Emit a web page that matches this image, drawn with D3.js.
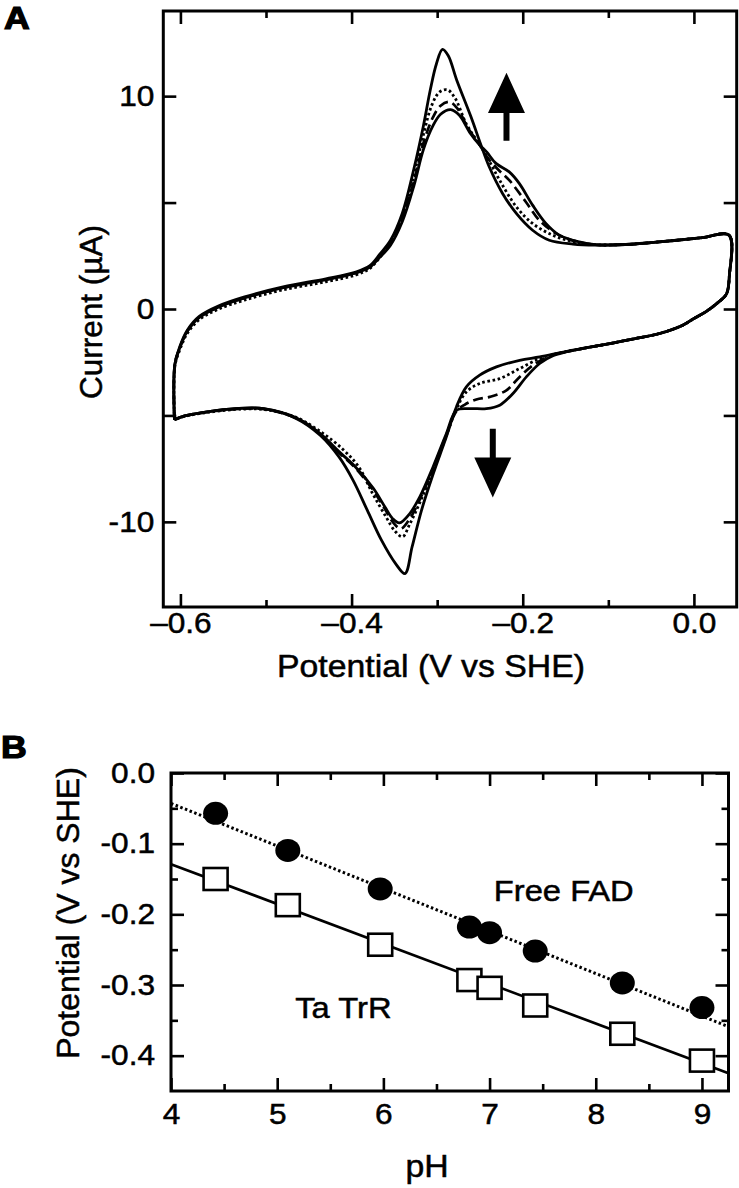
<!DOCTYPE html>
<html><head><meta charset="utf-8">
<script src="https://cdn.jsdelivr.net/npm/d3@7"></script>
<style>
html,body{margin:0;padding:0;background:#fff;}
svg{display:block;font-family:"Liberation Sans",Arial,Helvetica,sans-serif;}
</style>
</head><body>
<svg id="chart" width="739" height="1188"></svg>
<script>
// ---------------- Panel A data : cyclic voltammograms [potential V vs SHE, current µA] ----------------
const cvFinal = [ // solid, largest peaks, no shoulder
 [-0.607,-5.2],[-0.6065,-2.6],[-0.601,-1.8],[-0.592,-1.0],[-0.578,-0.35],[-0.555,0.15],[-0.525,0.57],[-0.48,1.04],
 [-0.43,1.42],[-0.395,1.74],[-0.379,2.02],[-0.3665,2.6],[-0.3545,3.23],[-0.3408,4.49],[-0.3271,6.6],[-0.3161,8.6],
 [-0.308,10.3],[-0.301,11.5],[-0.2938,12.2],[-0.287,11.9],[-0.2771,10.75],[-0.2605,9.03],[-0.2495,7.78],[-0.2392,6.68],
 [-0.2236,5.43],[-0.2075,4.49],[-0.1885,3.7],[-0.169,3.23],[-0.1413,3.05],[-0.115,3.0],[-0.08,3.03],[-0.05,3.12],
 [-0.02,3.23],[0.01,3.35],[0.041,3.47],
 [0.0415,1.6],[0.038,0.7],[0.028,0.3],[0.015,-0.1],[0.0,-0.45],[-0.013,-0.76],[-0.04,-1.15],[-0.07,-1.4],[-0.095,-1.6],
 [-0.125,-1.82],[-0.15,-2.0],[-0.1802,-2.25],[-0.2036,-2.41],[-0.2308,-2.72],[-0.2503,-3.11],[-0.2659,-3.66],[-0.2775,-4.6],
 [-0.2907,-6.17],[-0.3045,-7.73],[-0.3183,-9.46],[-0.3293,-11.18],[-0.3376,-12.43],[-0.3486,-11.96],[-0.3651,-10.86],
 [-0.3817,-9.45],[-0.3982,-8.05],[-0.4147,-6.95],[-0.4367,-5.93],[-0.4643,-5.15],[-0.5028,-4.68],[-0.5358,-4.68],
 [-0.5688,-4.83],[-0.595,-5.02],[-0.607,-5.2]
];
const cvInitial = [ // solid, smallest peaks, largest shoulders
 [-0.607,-5.2],[-0.6065,-2.6],[-0.601,-1.85],[-0.592,-1.05],[-0.578,-0.4],[-0.555,0.1],[-0.525,0.52],[-0.48,1.0],
 [-0.43,1.38],[-0.395,1.7],[-0.379,1.96],[-0.3665,2.45],[-0.3545,3.0],[-0.3408,4.1],[-0.3271,5.8],[-0.316,7.5],
 [-0.305,8.6],[-0.296,9.15],[-0.2842,9.37],[-0.274,9.1],[-0.262,8.3],[-0.2502,7.7],[-0.2422,7.38],[-0.2313,6.84],
 [-0.2158,6.44],[-0.2041,5.9],[-0.1885,4.88],[-0.173,4.02],[-0.1574,3.47],[-0.134,3.15],[-0.115,3.02],[-0.08,3.03],
 [-0.05,3.12],[-0.02,3.23],[0.01,3.35],[0.041,3.47],
 [0.0415,1.6],[0.038,0.7],[0.028,0.3],[0.015,-0.1],[0.0,-0.45],[-0.013,-0.76],[-0.04,-1.15],[-0.07,-1.4],[-0.095,-1.6],
 [-0.125,-1.82],[-0.15,-2.02],[-0.1647,-2.2],[-0.1802,-2.56],[-0.1958,-3.19],[-0.2114,-3.97],[-0.2269,-4.52],
 [-0.2425,-4.68],[-0.262,-4.68],[-0.2775,-4.76],[-0.2892,-5.85],[-0.3048,-7.42],[-0.3203,-8.83],[-0.332,-9.61],
 [-0.3441,-10.05],[-0.352,-9.85],[-0.361,-9.3],[-0.375,-8.4],[-0.396,-7.4],[-0.4147,-6.7],[-0.4367,-5.85],
 [-0.4643,-5.12],[-0.5028,-4.68],[-0.5358,-4.68],[-0.5688,-4.83],[-0.595,-5.02],[-0.607,-5.2]
];
const cvDashed = [
 [-0.607,-5.2],[-0.6065,-2.6],[-0.601,-1.85],[-0.592,-1.05],[-0.578,-0.4],[-0.555,0.1],[-0.525,0.52],[-0.48,1.0],
 [-0.43,1.38],[-0.395,1.7],[-0.379,1.98],[-0.3665,2.5],[-0.3545,3.1],[-0.3408,4.25],[-0.3271,6.0],[-0.316,7.8],
 [-0.305,9.0],[-0.296,9.55],[-0.2855,9.73],[-0.276,9.4],[-0.264,8.5],[-0.2502,7.7],[-0.241,7.1],[-0.23,6.6],
 [-0.2158,6.05],[-0.1963,5.03],[-0.1807,4.17],[-0.1612,3.55],[-0.14,3.2],[-0.115,3.02],[-0.08,3.03],
 [-0.05,3.12],[-0.02,3.23],[0.01,3.35],[0.041,3.47],
 [0.0415,1.6],[0.038,0.7],[0.028,0.3],[0.015,-0.1],[0.0,-0.45],[-0.013,-0.76],[-0.04,-1.15],[-0.07,-1.4],[-0.095,-1.6],
 [-0.125,-1.82],[-0.15,-2.02],[-0.165,-2.15],[-0.188,-2.64],[-0.2036,-3.19],[-0.2191,-3.82],[-0.2386,-4.13],
 [-0.2542,-4.25],[-0.268,-4.5],[-0.2775,-4.8],[-0.2892,-5.9],[-0.3048,-7.5],[-0.3203,-8.95],[-0.332,-9.85],
 [-0.3425,-10.32],[-0.352,-10.0],[-0.361,-9.4],[-0.375,-8.5],[-0.396,-7.45],[-0.4147,-6.75],[-0.4367,-5.87],
 [-0.4643,-5.13],[-0.5028,-4.7],[-0.5358,-4.7],[-0.5688,-4.84],[-0.595,-5.02],[-0.607,-5.2]
];
const cvDotted = [
 [-0.607,-5.2],[-0.6065,-2.7],[-0.601,-1.95],[-0.592,-1.15],[-0.578,-0.5],[-0.555,0.0],[-0.525,0.42],[-0.48,0.9],
 [-0.43,1.28],[-0.395,1.6],[-0.379,1.9],[-0.3665,2.45],[-0.3545,3.1],[-0.3408,4.35],[-0.3271,6.3],[-0.316,8.2],
 [-0.306,9.6],[-0.297,10.2],[-0.288,10.3],[-0.279,9.9],[-0.266,8.7],[-0.2502,7.7],[-0.2396,6.99],[-0.227,6.05],
 [-0.2075,4.8],[-0.1885,4.02],[-0.1651,3.47],[-0.14,3.15],[-0.115,3.02],[-0.08,3.03],
 [-0.05,3.12],[-0.02,3.23],[0.01,3.35],[0.041,3.47],
 [0.0415,1.6],[0.038,0.7],[0.028,0.3],[0.015,-0.1],[0.0,-0.45],[-0.013,-0.76],[-0.04,-1.15],[-0.07,-1.4],[-0.095,-1.6],
 [-0.125,-1.82],[-0.15,-2.0],[-0.165,-2.15],[-0.1802,-2.33],[-0.2036,-2.8],[-0.2269,-3.27],[-0.2503,-3.5],
 [-0.266,-3.9],[-0.2775,-4.7],[-0.2892,-5.95],[-0.3048,-7.6],[-0.3203,-9.1],[-0.332,-10.1],[-0.3403,-10.7],
 [-0.349,-10.45],[-0.36,-9.75],[-0.375,-8.7],[-0.392,-7.4],[-0.41,-6.6],[-0.435,-5.8],[-0.4643,-5.1],
 [-0.5028,-4.72],[-0.5358,-4.72],[-0.5688,-4.86],[-0.595,-5.04],[-0.607,-5.2]
];
// arrows [potential, tail current, head-base current, tip current]
const arrowUp = [-0.219, 7.9, 9.21, 11.1];
const arrowDown = [-0.235, -5.62, -6.98, -8.86];

const xTicksA = [-0.6, -0.4, -0.2, 0.0];
const xTickLabelsA = ["\u20130.6", "\u20130.4", "\u20130.2", "0.0"];
const xMinorA = [-0.5, -0.3, -0.1];
const yTicksA = [-10, 0, 10];
const yTickLabelsA = ["-10", "0", "10"];
const yMinorA = [-5, 5];

// ---------------- Panel B data ----------------
const pH = [4.42, 5.10, 5.97, 6.81, 7.0, 7.43, 8.25, 9.0];
const freeFAD = [-0.057, -0.1095, -0.164, -0.218, -0.226, -0.252, -0.297, -0.332];
const taTrR = [-0.150, -0.187, -0.243, -0.293, -0.304, -0.329, -0.369, -0.407];
const fitPH = [4.0, 9.25];
const fitFAD = [-0.043, -0.359];
const fitTrR = [-0.129, -0.425];

const xTicksB = [4, 5, 6, 7, 8, 9];
const xTickLabelsB = ["4", "5", "6", "7", "8", "9"];
const xMinorB = [4.5, 5.5, 6.5, 7.5, 8.5];
const yTicksB = [0, -0.1, -0.2, -0.3, -0.4];
const yTickLabelsB = ["0.0", "-0.1", "-0.2", "-0.3", "-0.4"];
const yMinorB = [-0.05, -0.15, -0.25, -0.35];

// ---------------- drawing ----------------
const svg = d3.select("#chart");
svg.append("rect").attr("width",739).attr("height",1188).attr("fill","#fff");
const STRETCH = 1.09;

function axes(g, x, y, o) {
  const [x0, x1] = x.range(), [y0, y1] = y.range(); // y0 bottom, y1 top
  const add = (axis, tr) => {
    const a = g.append("g").attr("transform", tr).call(axis);
    a.select(".domain").remove();
    a.selectAll(".tick line").attr("stroke","#000").attr("stroke-width",2.6);
    a.selectAll(".tick text").attr("fill","#000").style("font-size", o.fs + "px")
      .style("font-family", '"Liberation Sans",Arial,Helvetica,sans-serif');
    a.attr("font-size", null).attr("font-family", null);
    return a;
  };
  add(d3.axisBottom(x).tickValues(o.xMajor).tickSize(-o.xMajLen).tickPadding(o.xPad).tickFormat((d,i)=>o.xLabels[i]), `translate(0,${y0})`);
  add(d3.axisBottom(x).tickValues(o.xMinor).tickSize(-o.xMinLen).tickFormat(""), `translate(0,${y0})`);
  add(d3.axisTop(x).tickValues(o.xMajor).tickSize(-o.xMajLen).tickFormat(""), `translate(0,${y1})`);
  add(d3.axisTop(x).tickValues(o.xMinor).tickSize(-o.xMinLen).tickFormat(""), `translate(0,${y1})`);
  add(d3.axisLeft(y).tickValues(o.yMajor).tickSize(-o.yMajLen).tickPadding(o.yPad).tickFormat((d,i)=>o.yLabels[i]), `translate(${x0},0)`);
  add(d3.axisLeft(y).tickValues(o.yMinor).tickSize(-o.yMinLen).tickFormat(""), `translate(${x0},0)`);
  add(d3.axisRight(y).tickValues(o.yMajor).tickSize(-o.yMajLen).tickFormat(""), `translate(${x1},0)`);
  add(d3.axisRight(y).tickValues(o.yMinor).tickSize(-o.yMinLen).tickFormat(""), `translate(${x1},0)`);
  g.append("rect").attr("x",x0).attr("y",y1).attr("width",x1-x0).attr("height",y0-y1)
    .attr("fill","none").attr("stroke","#000").attr("stroke-width",3);
}

// ----- Panel A -----
const xA = d3.scaleLinear().domain([-0.62, 0.05]).range([163.3, 736.7]);
const yA = d3.scaleLinear().domain([-14, 14]).range([607, 11]);
const gA = svg.append("g");
const lineA = d3.line().x(d=>xA(d[0])).y(d=>yA(d[1])).curve(d3.curveCatmullRom.alpha(0.5));
const cvSeries = [
  {data: cvInitial, dash: null, w: 2.8},
  {data: cvDashed, dash: "10,5", w: 2.7},
  {data: cvDotted, dash: "2.6,2.6", w: 2.8},
  {data: cvFinal, dash: null, w: 2.8}
];
gA.selectAll("path.cv").data(cvSeries).join("path").attr("class","cv")
  .attr("d", d=>lineA(d.data)).attr("fill","none").attr("stroke","#000")
  .attr("stroke-width", d=>d.w).attr("stroke-dasharray", d=>d.dash)
  .attr("stroke-linejoin","round");

function arrow(a) {
  const cx = xA(a[0]), tail = yA(a[1]), base = yA(a[2]), tip = yA(a[3]);
  const hw = 18.5, sw = 3;
  gA.append("path").attr("fill","#000")
    .attr("d", `M${cx-sw},${tail}L${cx-sw},${base}L${cx-hw},${base}L${cx},${tip}L${cx+hw},${base}L${cx+sw},${base}L${cx+sw},${tail}Z`);
}
arrow(arrowUp); arrow(arrowDown);

axes(gA, xA, yA, {fs:29, xMajor:xTicksA, xLabels:xTickLabelsA, xMinor:xMinorA, xMajLen:13, xMinLen:7, xPad:5,
  yMajor:yTicksA, yLabels:yTickLabelsA, yMinor:yMinorA, yMajLen:13, yMinLen:13, yPad:9});

gA.append("text").attr("x",431).attr("y",677).attr("text-anchor","middle")
  .style("font-size","31px").text("Potential (V vs SHE)");
gA.append("text").attr("transform","translate(102,312) rotate(-90)").attr("text-anchor","middle")
  .style("font-size","31.5px").text("Current (\u00B5A)");
svg.append("text").attr("class","panel").attr("x",4).attr("y",29).style("font-size","31px").style("font-weight","bold").text("A");

// ----- Panel B -----
const xB = d3.scaleLinear().domain([4, 9.25]).range([171, 728.5]);
const yB = d3.scaleLinear().domain([-0.45, 0]).range([1091, 773]);
const gB = svg.append("g");
const fitLine = d3.line().x(d=>xB(d[0])).y(d=>yB(d[1]));
gB.append("path").attr("d", fitLine(fitPH.map((p,i)=>[p, fitFAD[i]])))
  .attr("fill","none").attr("stroke","#000").attr("stroke-width",3).attr("stroke-dasharray","2.5,2.5");
gB.append("path").attr("d", fitLine(fitPH.map((p,i)=>[p, fitTrR[i]])))
  .attr("fill","none").attr("stroke","#000").attr("stroke-width",2.7);
gB.selectAll("ellipse.fad").data(pH.map((p,i)=>[p, freeFAD[i]])).join("ellipse").attr("class","fad")
  .attr("cx", d=>xB(d[0])).attr("cy", d=>yB(d[1])).attr("rx",12.5).attr("ry",11.5).attr("fill","#000");
gB.selectAll("rect.trr").data(pH.map((p,i)=>[p, taTrR[i]])).join("rect").attr("class","trr")
  .attr("x", d=>xB(d[0])-12).attr("y", d=>yB(d[1])-11).attr("width",24).attr("height",22)
  .attr("fill","#fff").attr("stroke","#000").attr("stroke-width",2.6);

axes(gB, xB, yB, {fs:29, xMajor:xTicksB, xLabels:xTickLabelsB, xMinor:xMinorB, xMajLen:13, xMinLen:7, xPad:12,
  yMajor:yTicksB, yLabels:yTickLabelsB, yMinor:yMinorB, yMajLen:13, yMinLen:7, yPad:16});

gB.append("text").attr("x", xB(7.04)).attr("y", yB(-0.181)).style("font-size","30px").text("Free FAD");
gB.append("text").attr("x", xB(5.17)).attr("y", yB(-0.346)).style("font-size","30px").text("Ta TrR");
gB.append("text").attr("x",427).attr("y",1177).attr("text-anchor","middle").style("font-size","31px").text("pH");
gB.append("text").attr("transform","translate(79,913) rotate(-90)").attr("text-anchor","middle")
  .style("font-size","32px").text("Potential (V vs SHE)");
svg.append("text").attr("class","panel").attr("x",1).attr("y",758).style("font-size","31px").style("font-weight","bold").text("B");

// slightly heavier glyphs, like the reference print
svg.selectAll("text").attr("stroke","#000").attr("stroke-width",0.5).attr("fill","#000");
svg.selectAll("text.panel").attr("stroke-width",1.2);
// horizontal stretch of horizontal texts to match the reference's aspect
svg.selectAll("text").each(function(){
  if (this.getAttribute("transform") && this.getAttribute("transform").includes("rotate")) return;
  const l = this.getComputedTextLength();
  const f = this.classList.contains("panel") ? 1.15 : STRETCH;
  if (l > 0) d3.select(this).attr("textLength", l*f).attr("lengthAdjust","spacingAndGlyphs");
});
</script>
</body></html>
